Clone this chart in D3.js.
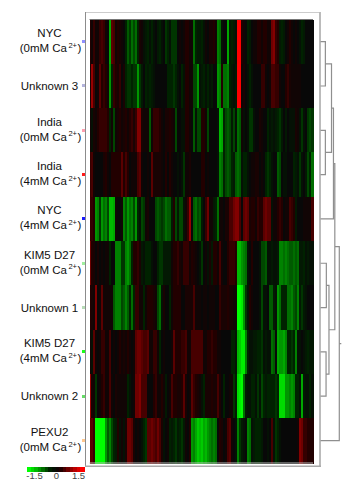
<!DOCTYPE html>
<html lang="en">
<head>
  <meta charset="UTF-8">
  <title>Expression heatmap</title>
  <script src="https://d3js.org/d3.v7.min.js"></script>
  <style>
    body { margin: 0; background: #fff; font-family: 'Liberation Sans', Arial, sans-serif; }
    svg { display: block; }
  </style>
</head>
<body>
  <div class="chart"></div>
  <script>
    // rows top to bottom, second label line is null for single line names
    const rowNames = ['NYC', 'Unknown 3', 'India', 'India', 'NYC', 'KIM5 D27', 'Unknown 1', 'KIM5 D27', 'Unknown 2', 'PEXU2'];
    const rowConditions = ['(0mM Ca', null, '(0mM Ca', '(4mM Ca', '(4mM Ca', '(0mM Ca', null, '(4mM Ca', null, '(0mM Ca'];
    const rowChips = ['#8f8fff', '#b4b4dc', '#ff9fb0', '#ff1a1a', '#1a1aff', '#9fef9f', '#b8dcb8', '#1aff1a', '#66dd66', '#ffc88f'];

    // expression in tenths of a log ratio, -15 is -1.5
    const nyc0 = [3,1,4,1,1,4,5,4,1,0,-10,6,5,1,3,2,1,0,-3,-6,-4,-7,-5,-7,-3,2,1,-1,-2,-3,-1,-3,-1,0,-2,-3,-1,0,
      -4,-3,-1,-4,-4,-4,0,1,0,1,3,3,1,1,-7,-3,-2,-2,-3,-1,1,0,2,2,3,1,-8,-7,-1,0,0,-10,-2,-3,-2,-1,15,15,
      3,1,0,-3,-2,0,1,1,3,3,1,3,3,1,1,7,8,4,3,-2,-3,-2,0,1,3,1,0,1,0,-1,-3,-2,0,0,0,0];
    const unknown3 = [2,9,5,0,1,6,3,4,3,1,-9,-3,4,3,2,4,0,2,-3,-4,-4,-3,-4,-4,-9,-4,-2,0,-3,-2,-3,-2,-1,0,0,0,0,0,
      0,-3,-3,-3,-4,-3,-1,0,-3,-1,3,3,1,1,-5,-5,-9,-1,-2,-3,-1,-3,-1,-2,0,0,-9,-8,3,-7,-7,-8,-3,-2,-1,-2,15,15,
      1,2,0,-1,-3,-1,0,0,0,0,4,4,1,0,1,5,5,4,4,1,0,0,3,4,2,1,1,1,1,1,0,0,0,0,0,0];
    const india0 = [1,-1,2,1,3,4,4,4,4,3,-3,1,-5,1,2,3,1,2,3,1,3,4,2,4,8,8,2,1,1,1,-6,1,4,4,4,3,1,0,
      2,2,3,2,1,-5,0,0,-1,-1,3,3,1,0,-6,-1,-5,-5,3,3,1,-5,0,0,0,0,-1,-11,-10,-3,-5,-6,-5,-2,-5,-1,-7,-6,
      1,-1,0,-1,-4,-4,-1,0,0,2,1,0,0,-3,-1,-2,-1,-2,-3,-4,-2,0,-2,0,-1,-1,-1,2,1,-1,-4,-1,0,-4,-5,-4];
    const india4 = [4,5,1,0,0,0,0,2,3,1,0,3,3,3,3,3,6,3,5,3,0,1,1,1,5,6,1,0,0,1,0,6,2,2,2,2,1,0,
      3,0,3,1,0,0,-1,0,-1,-4,1,1,2,0,0,0,0,0,3,3,0,1,0,0,0,0,-1,-8,-7,-3,-5,-6,-5,-3,-2,-6,-7,-6,
      -1,-3,-3,-1,0,1,1,2,2,0,1,0,-3,-4,-3,-1,0,0,-6,-5,0,-1,-1,0,0,0,-3,-2,-1,-4,-1,0,-2,-5,-3,-7];
    const nyc4 = [4,4,3,-9,-8,-4,-9,-7,-8,-5,-11,-11,-10,1,0,0,1,-8,-6,-9,-7,-8,-5,-9,-3,-1,-5,-4,1,2,0,0,0,-5,-6,-5,-4,-5,
      -7,-6,-6,-2,3,-5,-2,-5,-5,-1,1,4,9,0,-6,-7,-5,-6,-2,0,4,7,1,1,-2,-3,-7,1,1,0,2,2,5,5,7,8,8,5,
      0,6,7,6,2,3,3,1,4,3,3,6,7,6,6,-1,1,1,3,4,3,0,1,1,5,4,3,-2,0,0,0,1,1,1,1,5];
    const kim0 = [7,3,2,0,2,0,1,0,1,1,-3,0,0,-8,-8,-8,-4,-4,-8,-9,-7,-3,3,3,4,2,-2,-1,-3,-3,-3,-1,0,0,-3,-4,-4,-2,
      -2,-2,-2,1,3,3,4,2,1,4,4,4,1,3,2,1,0,-1,-4,0,1,-1,2,-2,3,3,1,5,1,0,0,3,4,4,4,3,-11,-11,
      -9,-8,-7,-1,0,3,0,0,0,-1,-5,-5,-6,-1,-1,-2,-1,-1,-2,-8,-8,-7,-8,-7,-6,-6,-7,-6,-7,-2,-2,-3,-1,-2,-1,-1];
    const unknown1 = [3,2,1,8,0,1,6,1,1,1,1,1,-6,-8,-8,-8,-5,-6,-8,-6,-3,-7,-3,4,4,1,1,-3,1,3,3,3,2,1,-5,-7,-1,2,
      0,0,-3,1,3,3,3,3,0,0,2,2,2,2,5,1,1,1,0,1,1,0,1,1,1,0,0,4,2,2,2,3,2,2,1,1,-15,-15,
      -14,-9,-4,-1,3,1,0,0,0,-1,-5,-1,-1,0,-6,-6,-2,-1,-9,-7,-3,-3,-3,-7,-7,-8,-6,-5,-8,-2,-4,-2,-1,0,0,0];
    const kim4 = [1,-1,6,1,0,1,4,4,1,1,5,0,1,0,1,3,1,2,1,3,1,0,1,6,7,7,6,5,5,6,1,1,4,4,1,-3,0,1,
      0,0,0,1,6,3,3,3,4,4,5,1,1,5,5,5,5,5,5,1,1,3,3,4,3,3,1,1,0,0,0,0,0,-3,-3,-1,-11,-12,
      -14,-14,-8,-3,-1,-1,-2,-2,-3,-3,-4,-1,-2,-1,-1,-7,-6,0,-10,-9,-9,-10,-8,-3,-3,-4,-3,-8,-1,-1,0,-1,-2,-3,-2,-2];
    const unknown2 = [9,2,1,-4,0,1,3,4,1,1,5,1,0,2,1,1,1,1,1,-3,-1,0,1,7,7,8,5,5,5,0,0,0,3,4,1,1,3,1,
      -2,0,1,5,3,3,2,2,3,6,2,0,1,6,4,3,2,1,-1,-3,2,2,2,3,2,2,5,2,0,-3,0,0,1,1,-4,-2,-13,-14,
      -15,-7,-2,-1,-1,-3,-3,-1,-4,-1,-5,-3,-2,-3,-3,-3,-3,-4,-3,-13,-13,-13,-9,-9,-8,-9,-8,-3,-3,-1,-10,-2,-1,-1,-3,-1];
    const pexu0 = [6,6,4,-15,-15,-15,-15,-15,-9,-6,-8,-5,-3,-2,3,-1,1,-1,2,7,7,6,2,0,1,0,-1,-3,-4,6,6,7,6,5,7,5,2,-1,
      0,1,-3,-2,-3,-4,-2,-3,-4,-2,1,0,3,-9,-8,-10,-12,-11,-12,-10,-11,-9,-8,-7,-8,-7,0,3,2,0,1,5,6,1,0,-1,-8,-4,
      -2,-1,0,-8,-7,-1,-2,-3,-3,-3,-2,0,0,-1,0,5,-1,-4,-3,-1,0,0,0,0,0,0,0,0,1,8,7,4,4,3,3,3];
    const rowValues = [nyc0, unknown3, india0, india4, nyc4, kim0, unknown1, kim4, unknown2, pexu0];

    // dendrogram merges, ids above 9 are earlier merges in this order
    const mergeLeft = [0, 2, 10, 12, 5, 7, 14, 13, 17];
    const mergeRight = [1, 3, 11, 4, 6, 8, 15, 16, 9];
    const mergeHeight = [5, 5, 11.3, 13.3, 6, 5.7, 8.7, 14.7, 19.3];

    const legendSteps = [-15, -13, -11, -9, -7, -5, -3, -1, 1, 3, 5, 7, 9, 11, 13, 15];
    const legendTicks = [-1.5, 0, 1.5];

    const svg = d3.select('.chart').append('svg').attr('width', 362).attr('height', 492);

    const columns = d3.range(nyc0.length);
    const x = d3.scaleBand().domain(columns).range([89.5, 313]);
    const y = d3.scaleBand().domain(d3.range(rowNames.length)).range([19.5, 462.7]);
    // dark values stay dark, only the far ends get bright
    const color = d3.scaleLinear()
      .domain([-15, -9, -6, -3, 0, 3, 6, 9, 15])
      .range(['#00ff00', '#009600', '#005a00', '#002200', '#080808', '#220000', '#5a0000', '#960000', '#ff0000'])
      .clamp(true);

    svg.append('g').attr('shape-rendering', 'crispEdges')
      .selectAll('g').data(rowValues).join('g')
      .attr('transform', (d, i) => `translate(0, ${Math.round(y(i))})`)
      .selectAll('rect').data(d => d).join('rect')
      .attr('x', (d, i) => x(i)).attr('width', x.bandwidth() + 0.5).attr('height', Math.ceil(y.bandwidth()) + 1)
      .attr('fill', d => color(d));

    // frame round the heatmap
    const frame = svg.append('g').attr('fill', 'none');
    frame.append('path').attr('d', 'M85.5 12.5H320.5').attr('stroke', '#ccc').attr('stroke-width', 1);
    frame.append('path').attr('d', 'M85.5 12V466').attr('stroke', '#8c8c8c').attr('stroke-width', 1);
    frame.append('path').attr('d', 'M320 12V467').attr('stroke', '#bbb').attr('stroke-width', 2);
    frame.append('path').attr('d', 'M85 466.3H321').attr('stroke', '#aaa').attr('stroke-width', 1.5);
    frame.append('path').attr('d', 'M89.5 463H313').attr('stroke', '#bbb').attr('stroke-width', 1);
    frame.append('path').attr('d', 'M89.5 19.5H313').attr('stroke', '#777').attr('stroke-width', 1);

    // labels and side chips
    const labels = svg.append('g').attr('fill', '#111').attr('font-size', 11.5).attr('text-anchor', 'middle');
    rowNames.forEach((name, i) => {
      const cy = y(i) + y.bandwidth() / 2;
      const cond = rowConditions[i];
      labels.append('text').attr('x', 49.5).attr('y', cond ? cy - 4.5 : cy + 4).text(name);
      if (cond) {
        const line = labels.append('text').attr('x', 50.5).attr('y', cy + 10.5);
        line.append('tspan').text(cond);
        line.append('tspan').attr('font-size', 7.5).attr('dx', 1.5).attr('dy', -4.5).text('2+');
        line.append('tspan').attr('dx', 0.5).attr('dy', 4.5).text(')');
      }
    });
    svg.append('g').selectAll('rect').data(rowChips).join('rect')
      .attr('x', 82).attr('y', (d, i) => Math.round(y(i) + y.bandwidth() / 2 - 1.5))
      .attr('width', 3).attr('height', 3).attr('fill', d => d);

    // dendrogram
    const dendroX = d3.scaleLinear().domain([0, 19.3]).range([320.5, 339.3]);
    const nodes = rowNames.map((d, i) => ({ h: 0, y: y(i) + y.bandwidth() / 2 }));
    const dendro = d3.path();
    mergeLeft.forEach((left, i) => {
      const a = nodes[left], b = nodes[mergeRight[i]], h = mergeHeight[i];
      dendro.moveTo(dendroX(a.h), a.y);
      dendro.lineTo(dendroX(h), a.y);
      dendro.lineTo(dendroX(h), b.y);
      dendro.lineTo(dendroX(b.h), b.y);
      nodes.push({ h, y: (a.y + b.y) / 2 });
    });
    const root = nodes[nodes.length - 1];
    dendro.moveTo(dendroX(root.h), root.y);
    dendro.lineTo(dendroX(root.h) + 2, root.y);
    svg.append('path').attr('d', dendro.toString()).attr('fill', 'none')
      .attr('stroke', '#8f8f8f').attr('stroke-width', 1.2);

    // colour key
    const legendBand = d3.scaleBand().domain(legendSteps).range([27, 84]);
    svg.append('g').attr('shape-rendering', 'crispEdges').selectAll('rect').data(legendSteps).join('rect')
      .attr('x', d => legendBand(d)).attr('y', 467).attr('width', legendBand.bandwidth() + 0.5).attr('height', 5)
      .attr('fill', d => color(d));

    const legendX = d3.scaleLinear().domain([-1.5, 1.5]).range([34, 78]);
    const legendAxis = svg.append('g').attr('transform', 'translate(0, 470.5)')
      .call(d3.axisBottom(legendX).tickValues(legendTicks).tickSize(0).tickFormat(d => String(d)));
    legendAxis.select('.domain').remove();
    legendAxis.selectAll('text').attr('font-family', "'Liberation Sans', Arial, sans-serif")
      .attr('font-size', 9.5).attr('fill', '#444').attr('dy', '.55em');
  </script>
</body>
</html>
